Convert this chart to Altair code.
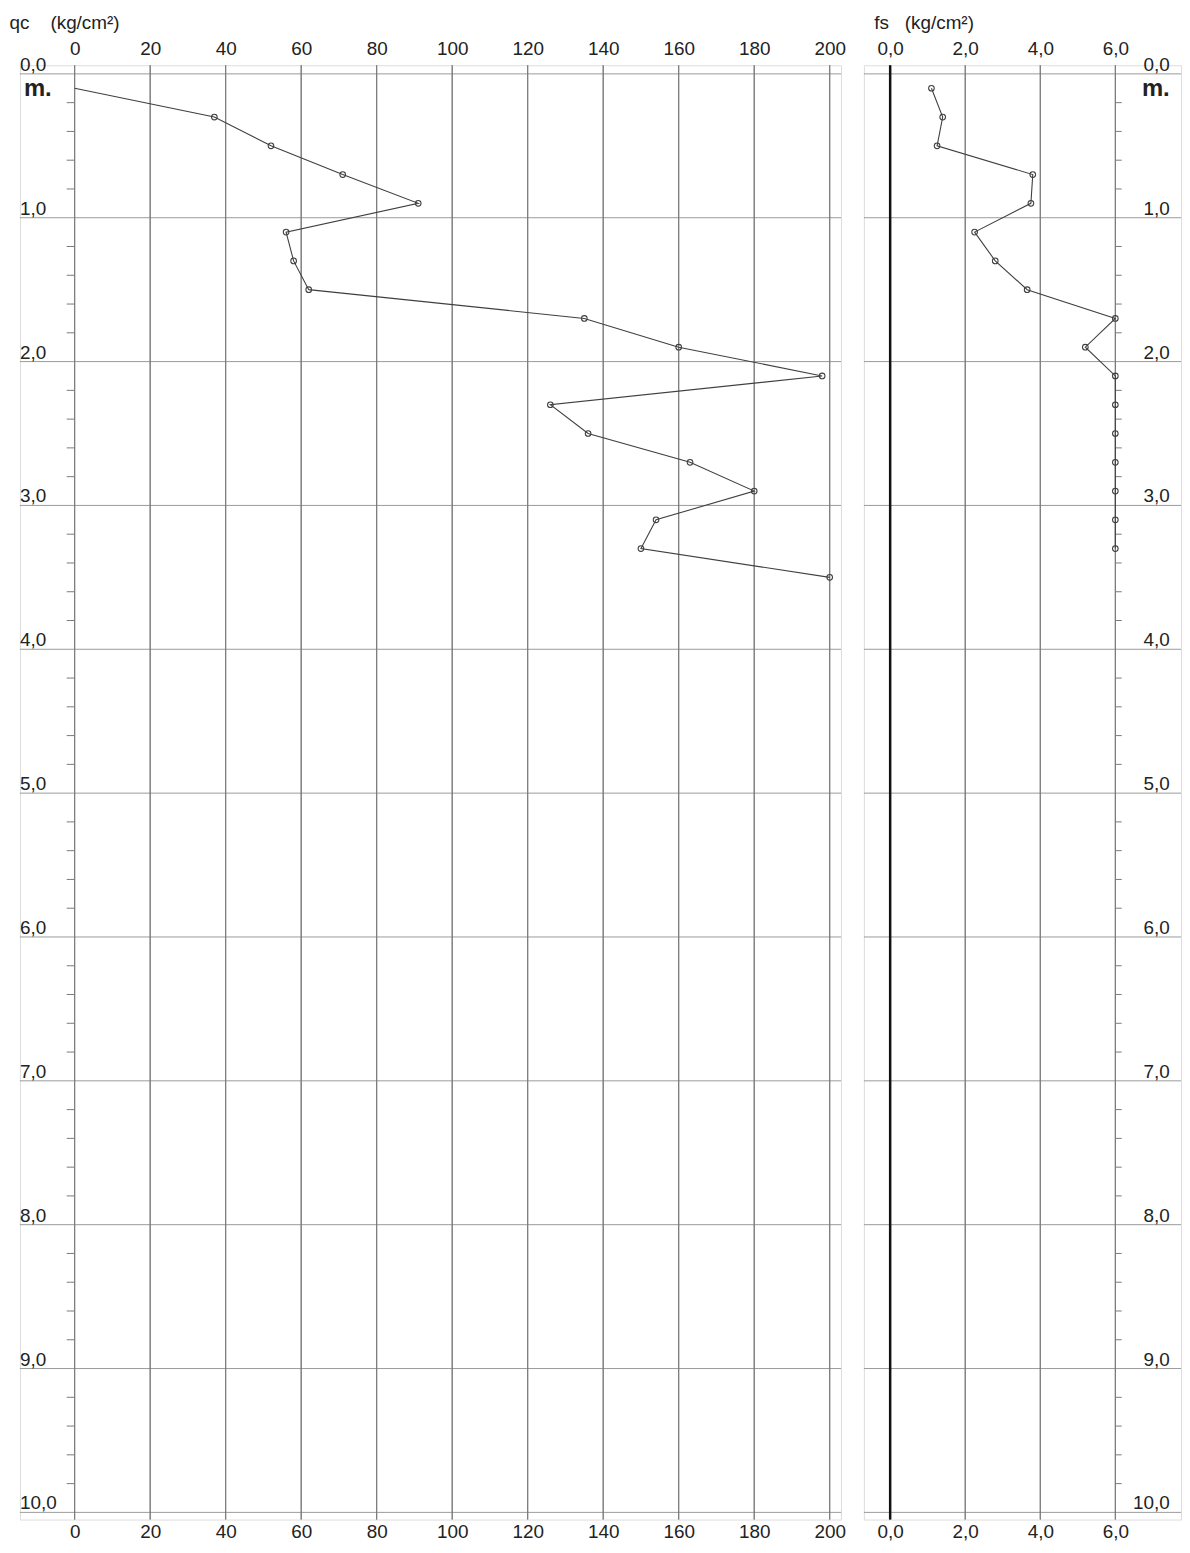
import altair as alt
import pandas as pd

# ---- data ----
qc_depth = [0.1, 0.3, 0.5, 0.7, 0.9, 1.1, 1.3, 1.5, 1.7, 1.9, 2.1, 2.3, 2.5, 2.7, 2.9, 3.1, 3.3, 3.5]
qc_value = [0, 37, 52, 71, 91, 56, 58, 62, 135, 160, 198, 126, 136, 163, 180, 154, 150, 200]
qc_marked = [False] + [True] * 17

fs_depth = [0.1, 0.3, 0.5, 0.7, 0.9, 1.1, 1.3, 1.5, 1.7, 1.9, 2.1, 2.3, 2.5, 2.7, 2.9, 3.1, 3.3]
fs_value = [1.1, 1.4, 1.25, 3.8, 3.75, 2.25, 2.8, 3.65, 6.0, 5.2, 6.0, 6.0, 6.0, 6.0, 6.0, 6.0, 6.0]

qc_ticks = [0, 20, 40, 60, 80, 100, 120, 140, 160, 180, 200]
fs_ticks = [0, 2, 4, 6]
depth_major = [0, 1, 2, 3, 4, 5, 6, 7, 8, 9, 10]
depth_labels = ["0,0", "1,0", "2,0", "3,0", "4,0", "5,0", "6,0", "7,0", "8,0", "9,0", "10,0"]
depth_minor = [round(i * 0.2, 1) for i in range(1, 50) if i % 5 != 0]

qc_title = "qc\u00a0\u00a0\u00a0\u00a0(kg/cm²)"
fs_title = "fs\u00a0\u00a0\u00a0(kg/cm²)"
unit_label = "m."

# ---- tables ----
qc_df = pd.DataFrame({"depth": qc_depth, "qc": qc_value, "marked": qc_marked})
fs_df = pd.DataFrame({"depth": fs_depth, "fs": fs_value})
major_df = pd.DataFrame({"depth": depth_major, "label": depth_labels})
minor_df = pd.DataFrame({"depth": depth_minor})

FONT = "Liberation Sans"
GRID_H = "#9a9a9a"
GRID_V = "#7a7a7a"
LINE = "#404040"
TXT = "#222222"

ys = alt.Scale(domain=[-0.06, 10.05], reverse=True, nice=False, zero=False)
qs = alt.Scale(domain=[-14.5, 203], nice=False, zero=False)
fss = alt.Scale(domain=[-0.7, 7.75], nice=False, zero=False)

W_L, W_R, H = 826, 319, 1463


def make_axis(orient, ticks, comma, title=None, title_x=0):
    kw = dict(
        orient=orient, values=ticks, grid=False, ticks=False, domain=False,
        labelFont=FONT, labelFontSize=19, labelColor=TXT,
        labelPadding=7 if orient == "top" else 3,
        labelFlush=False, labelOverlap=False,
    )
    if comma:
        kw["labelExpr"] = "replace(format(datum.value, '.1f'), '.', ',')"
    if title:
        kw.update(title=title, titleFont=FONT, titleFontSize=19, titleFontWeight="normal",
                  titleColor=TXT, titleAlign="left", titleBaseline="middle",
                  titleAngle=0, titleX=title_x, titleY=-43)
    else:
        kw["title"] = None
    return alt.Axis(**kw)


def panel(df_line, field, xscale, ticks, width, left):
    ax_top = make_axis("top", ticks, not left, qc_title if left else fs_title, -11 if left else 10)
    ax_bot = make_axis("bottom", ticks, not left)

    hgrid = alt.Chart(major_df).mark_rule(color=GRID_H, strokeWidth=1).encode(
        y=alt.Y("depth:Q", scale=ys, axis=None))
    vgrid_top = alt.Chart(pd.DataFrame({"v": ticks})).mark_rule(color=GRID_V, strokeWidth=1).encode(
        x=alt.X("v:Q", scale=xscale, axis=ax_top))
    vgrid_bot = alt.Chart(pd.DataFrame({"v": ticks})).mark_rule(color=GRID_V, strokeWidth=1).encode(
        x=alt.X("v:Q", scale=xscale, axis=ax_bot))

    if left:
        minor = alt.Chart(minor_df).mark_rule(color=GRID_V, strokeWidth=1).encode(
            y=alt.Y("depth:Q", scale=ys, axis=None),
            x=alt.X(datum=-2.1, scale=xscale, axis=None), x2=alt.X2(datum=0))
        lab_x, lab_align = -14.5, "left"
    else:
        minor = alt.Chart(minor_df).mark_rule(color=GRID_V, strokeWidth=1).encode(
            y=alt.Y("depth:Q", scale=ys, axis=None),
            x=alt.X(datum=6, scale=xscale, axis=None), x2=alt.X2(datum=6.17))
        lab_x, lab_align = 7.45, "right"

    labels = alt.Chart(major_df).mark_text(
        font=FONT, fontSize=19, color=TXT, align=lab_align, baseline="alphabetic", dy=-3
    ).encode(
        y=alt.Y("depth:Q", scale=ys, axis=None),
        x=alt.X(datum=lab_x, scale=xscale, axis=None),
        text="label:N")
    m_df = pd.DataFrame({"depth": [0], "t": [unit_label]})
    mlabel = alt.Chart(m_df).mark_text(
        font=FONT, fontSize=24, fontWeight="bold", color=TXT, align=lab_align, baseline="top",
        dy=3, dx=4 if left else 0
    ).encode(
        y=alt.Y("depth:Q", scale=ys, axis=None),
        x=alt.X(datum=lab_x, scale=xscale, axis=None),
        text="t:N")

    layers = [hgrid, vgrid_top, vgrid_bot, minor]
    if not left:
        zero = alt.Chart(pd.DataFrame({"v": [0]})).mark_rule(color="#111", strokeWidth=2.5).encode(
            x=alt.X("v:Q", scale=xscale, axis=None))
        layers.append(zero)

    line = alt.Chart(df_line).mark_line(color=LINE, strokeWidth=1.1).encode(
        x=alt.X(f"{field}:Q", scale=xscale, axis=None),
        y=alt.Y("depth:Q", scale=ys, axis=None),
        order="depth:Q")
    pts_df = df_line[df_line["marked"]] if "marked" in df_line else df_line
    pts = alt.Chart(pts_df).mark_point(shape="circle", filled=False, color=LINE, size=32,
                                       strokeWidth=1.1, opacity=1).encode(
        x=alt.X(f"{field}:Q", scale=xscale, axis=None),
        y=alt.Y("depth:Q", scale=ys, axis=None))
    layers += [line, pts, labels, mlabel]

    return alt.layer(*layers).resolve_scale(x="independent").resolve_axis(x="independent").properties(
        width=width, height=H)


left_panel = panel(qc_df, "qc", qs, qc_ticks, W_L, True)
right_panel = panel(fs_df, "fs", fss, fs_ticks, W_R, False)

chart = alt.hconcat(left_panel, right_panel, spacing=23, bounds="flush").properties(
    padding={"left": 0, "top": 0, "right": 0, "bottom": 0}
).configure_view(stroke=None).configure(background="white")

chart.save("out.html", embed_options={"renderer": "svg", "actions": False})
